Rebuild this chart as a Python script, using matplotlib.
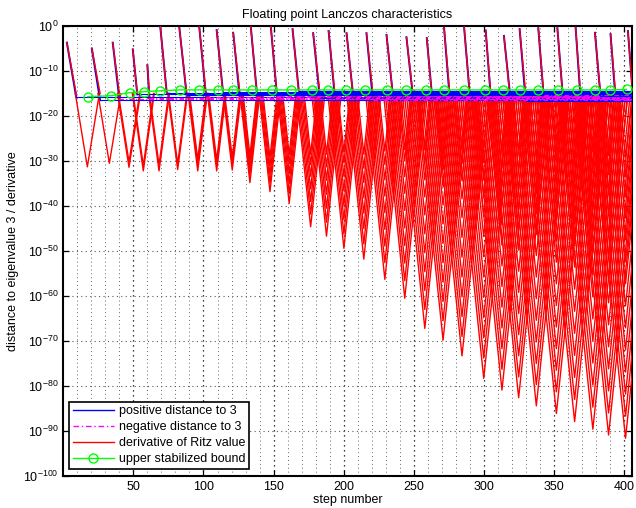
import numpy as np
import matplotlib
matplotlib.use('Agg')
import matplotlib.pyplot as plt
from matplotlib.lines import Line2D
from matplotlib.ticker import FixedLocator, MultipleLocator, NullLocator

plt.rcParams['font.family'] = ['Liberation Sans', 'DejaVu Sans']
plt.rcParams['mathtext.fontset'] = 'custom'
plt.rcParams['mathtext.rm'] = 'Liberation Sans'
plt.rcParams['mathtext.it'] = 'Liberation Sans:italic'
plt.rcParams['mathtext.default'] = 'regular'

# ghost copies of eigenvalue 3: where each new copy shows up (step, log10 value)
start_x = [2.6, 20.4, 35.3, 49.6, 60.0, 69.0, 82.8, 97.0, 109.4, 121.2, 133.6,
           147.9, 163.5, 178.2, 189.2, 202.0, 216.2, 230.5, 244.7, 259.2, 271.5,
           285.8, 301.2, 314.2, 325.4, 338.7, 352.3, 365.3, 379.1, 390.2, 402.6]
start_logy = [-3.7, -5.0, -3.7, -5.2, -8.7, 0.5, -0.4, -0.2, -0.9, -1.5, 0.3,
              0.2, -0.7, -1.6, -1.1, -1.6, -1.6, -2.0, -2.5, -2.7, -0.3,
              -0.2, -1.0, -2.2, -0.7, -0.5, -0.5, -0.3, -1.5, -1.8, -1.1]

# step where each copy has converged
peak_x = [9.2, 26.3, 40.0, 52.8, 61.4, 73.8, 88.0, 101.8, 113.9, 126.0, 138.1,
          152.4, 168.0, 183.0, 193.7, 206.5, 220.8, 235.0, 249.3, 262.7, 275.6,
          289.8, 304.8, 318.3, 329.7, 342.5, 356.0, 368.8, 383.0, 393.8, 406.0]

# converged distance of each copy, and which side of 3 it sits on
dist_logy = [-15.7, -16.5, -16.2, -15.2, -16.0, -14.8, -15.4, -15.7, -14.6, -16.3, -15.0,
             -15.5, -14.5, -16.1, -15.9, -14.9, -16.5, -15.3, -15.6, -14.7, -16.2,
             -15.1, -15.8, -14.5, -16.6, -15.4, -14.8, -16.1, -15.5, -16.4, -15.0]
dist_sign = [1, 1, -1, 1, -1, 1, 1, -1, 1, -1, 1,
             -1, 1, 1, -1, 1, -1, 1, -1, 1, -1,
             1, -1, 1, 1, -1, 1, -1, 1, -1, 1]
last_step = 405

# derivative of Ritz value: V shaped dips, nested dips per trough
red_top_logy = -15.0
trough_x = [17.2, 32.9, 46.9, 57.1, 68.3, 81.6, 95.9, 109.4, 120.5, 133.1,
            147.4, 161.1, 176.4, 187.7, 200.1, 214.3, 229.3, 243.5, 257.8, 270.8,
            284.3, 299.8, 312.8, 324.7, 337.3, 351.6, 364.6, 377.6, 388.8, 400.9]
# decades per step along the arms of each dip
arm_slope = [1.9, 1.9, 2.0, 2.2, 2.3, 2.4, 2.5, 2.6, 2.6, 2.8,
             2.8, 2.9, 2.9, 3.0, 3.0, 3.0, 3.0, 3.0, 3.0, 3.0,
             3.0, 3.0, 3.0, 3.0, 3.0, 3.0, 3.0, 3.0, 3.0, 3.0]
trough_depths = [
    [-31.3],
    [-30.5],
    [-31.4, -30.2],
    [-32.2, -31.0],
    [-32.2, -30.8],
    [-31.9, -30.6],
    [-32.2, -30.9, -29.6],
    [-32.2, -31.0, -29.8],
    [-32.0, -30.6, -29.2],
    [-34.8, -33.3, -31.8, -30.3, -28.8],
    [-36.8, -34.9, -33.0, -31.1, -29.2],
    [-39.4, -37.2, -35.0, -32.8, -30.6, -28.6],
    [-44.6, -41.8, -39.0, -36.2, -33.4, -30.8, -28.5],
    [-46.7, -43.6, -40.5, -37.4, -34.3, -31.3, -28.5],
    [-49.4, -46.2, -43.0, -39.8, -36.6, -33.4, -30.4, -28.0],
    [-51.8, -48.4, -45.0, -41.6, -38.2, -34.8, -31.6, -28.5],
    [-56.3, -52.6, -48.9, -45.2, -41.5, -37.8, -34.2, -30.8, -27.8],
    [-60.5, -56.6, -52.7, -48.8, -44.9, -41.0, -37.2, -33.5, -30.0, -27.5],
    [-67.2, -63.0, -58.8, -54.6, -50.4, -46.2, -42.0, -38.0, -34.2, -30.6, -27.5],
    [-69.8, -65.5, -61.2, -56.9, -52.6, -48.3, -44.0, -39.8, -35.8, -32.0, -28.5],
    [-73.3, -69.0, -64.6, -60.2, -55.8, -51.4, -47.0, -42.6, -38.4, -34.4, -30.6, -27.2],
    [-78.3, -73.8, -69.3, -64.8, -60.3, -55.8, -51.3, -46.8, -42.4, -38.2, -34.2, -30.4, -27.0],
    [-80.9, -76.3, -71.7, -67.1, -62.5, -57.9, -53.3, -48.7, -44.2, -39.8, -35.6, -31.6, -28.0],
    [-82.6, -78.0, -73.3, -68.6, -63.9, -59.2, -54.5, -49.8, -45.2, -40.7, -36.4, -32.3, -28.5],
    [-84.4, -79.7, -75.0, -70.2, -65.4, -60.6, -55.8, -51.0, -46.3, -41.7, -37.3, -33.0, -29.0],
    [-86.1, -81.3, -76.5, -71.7, -66.9, -62.1, -57.3, -52.5, -47.8, -43.1, -38.5, -34.1, -30.0, -26.5],
    [-87.9, -83.0, -78.1, -73.2, -68.3, -63.4, -58.5, -53.6, -48.8, -44.0, -39.3, -34.8, -30.5, -26.8],
    [-89.6, -84.7, -79.8, -74.9, -70.0, -65.1, -60.2, -55.3, -50.4, -45.6, -40.9, -36.3, -31.9, -27.8],
    [-90.9, -86.0, -81.1, -76.2, -71.3, -66.4, -61.5, -56.6, -51.7, -46.9, -42.1, -37.5, -33.0, -28.8],
    [-91.6, -86.7, -81.8, -76.9, -72.0, -67.1, -62.2, -57.3, -52.4, -47.5, -42.7, -38.0, -33.5, -29.2],
]

# upper stabilized bound (green circles)
bound_x = [17.5, 34.1, 47.6, 57.8, 69.0, 83.3, 97.0, 110.1, 121.2, 134.3,
           148.6, 162.3, 177.5, 188.5, 201.5, 215.2, 230.5, 244.2, 258.5, 271.5,
           285.8, 300.5, 313.5, 325.6, 338.7, 352.7, 366.0, 379.0, 389.5, 401.6]
bound_logy = [-15.7, -15.5, -14.8, -14.6, -14.4, -14.2, -14.2, -14.2, -14.2, -14.2,
              -14.2, -14.2, -14.2, -14.2, -14.2, -14.2, -14.2, -14.2, -14.2, -14.2,
              -14.2, -14.2, -14.2, -14.2, -14.2, -14.2, -14.2, -14.2, -14.2, -14.1]

BLUE = '#0000ff'
MAGENTA = '#ff00ff'
RED = '#ff0000'
GREEN = '#00ff00'
mag_dash = (4, 2, 1, 2)

fig = plt.figure(figsize=(6.36, 5.08), dpi=100)
ax = fig.add_axes([0.0994, 0.063, 0.8943, 0.8858])
ax.set_yscale('log')

def p10(v):
    return 10.0 ** np.asarray(v, dtype=float)

# distance curves: steep descent (under the red), then the converged level
for k in range(len(start_x)):
    ax.plot([start_x[k], peak_x[k]], p10([start_logy[k], dist_logy[k]]),
            color=BLUE, lw=1.4, zorder=2)
    if peak_x[k] < last_step:
        col = BLUE if dist_sign[k] > 0 else MAGENTA
        ln, = ax.plot([peak_x[k], last_step], p10([dist_logy[k], dist_logy[k]]),
                      color=col, lw=0.8, zorder=4)
        if dist_sign[k] < 0:
            ln.set_dashes(mag_dash)

# derivative of Ritz value
for k in range(len(start_x)):
    ax.plot([start_x[k], peak_x[k]], p10([start_logy[k], red_top_logy]),
            color=RED, lw=1.0, zorder=3)
for k in range(len(trough_x)):
    for d in trough_depths[k]:
        half = (red_top_logy - d) / arm_slope[k]
        ax.plot([trough_x[k] - half, trough_x[k], trough_x[k] + half],
                p10([red_top_logy, d, red_top_logy]),
                color=RED, lw=1.0, zorder=3)

ax.plot(bound_x, p10(bound_logy), '-o', color=GREEN, mfc='none', mec=GREEN,
        ms=6.5, mew=1.0, lw=1.0, zorder=5)

ax.set_xlim(0, 405.5)
ax.set_ylim(1e-100, 1e0)

ax.xaxis.set_major_locator(FixedLocator([50, 100, 150, 200, 250, 300, 350, 400]))
ax.xaxis.set_minor_locator(MultipleLocator(10))
ax.yaxis.set_major_locator(FixedLocator(p10(np.arange(-100, 1, 10))))
ax.yaxis.set_minor_locator(NullLocator())

ax.grid(which='major', axis='x', color='k', ls=(0, (1, 3)), lw=0.9, zorder=1)
ax.grid(which='minor', axis='x', color='0.4', ls=(0, (1, 3)), lw=0.7, zorder=1)
ax.grid(which='major', axis='y', color='0.35', ls=(0, (1, 3)), lw=0.8, zorder=1)
ax.set_axisbelow(True)

ax.tick_params(which='major', direction='in', top=True, right=True,
               length=4, width=0.9, labelsize=9, colors='k')
ax.tick_params(which='minor', length=0)
for s in ax.spines.values():
    s.set_linewidth(1.5)

ax.set_title('Floating point Lanczos characteristics', fontsize=9, pad=6)
ax.set_xlabel('step number', fontsize=9, labelpad=1)
ax.set_ylabel('distance to eigenvalue 3 / derivative', fontsize=9, labelpad=3)

legend_handles = [
    Line2D([0], [0], color=BLUE, lw=1),
    Line2D([0], [0], color=MAGENTA, lw=1, dashes=mag_dash),
    Line2D([0], [0], color=RED, lw=1),
    Line2D([0], [0], color=GREEN, lw=1, marker='o', mfc='none', ms=6.5),
]
legend_labels = ['positive distance to 3', 'negative distance to 3',
                 'derivative of Ritz value', 'upper stabilized bound']
leg = ax.legend(legend_handles, legend_labels, loc='lower left',
                bbox_to_anchor=(0.010, 0.015), borderaxespad=0, fontsize=9,
                fancybox=False, framealpha=1, edgecolor='k',
                handlelength=3.3, handletextpad=0.4, labelspacing=0.32,
                borderpad=0.3)
leg.get_frame().set_linewidth(1.2)
leg.set_zorder(10)

fig.savefig('out.png', dpi=100)
